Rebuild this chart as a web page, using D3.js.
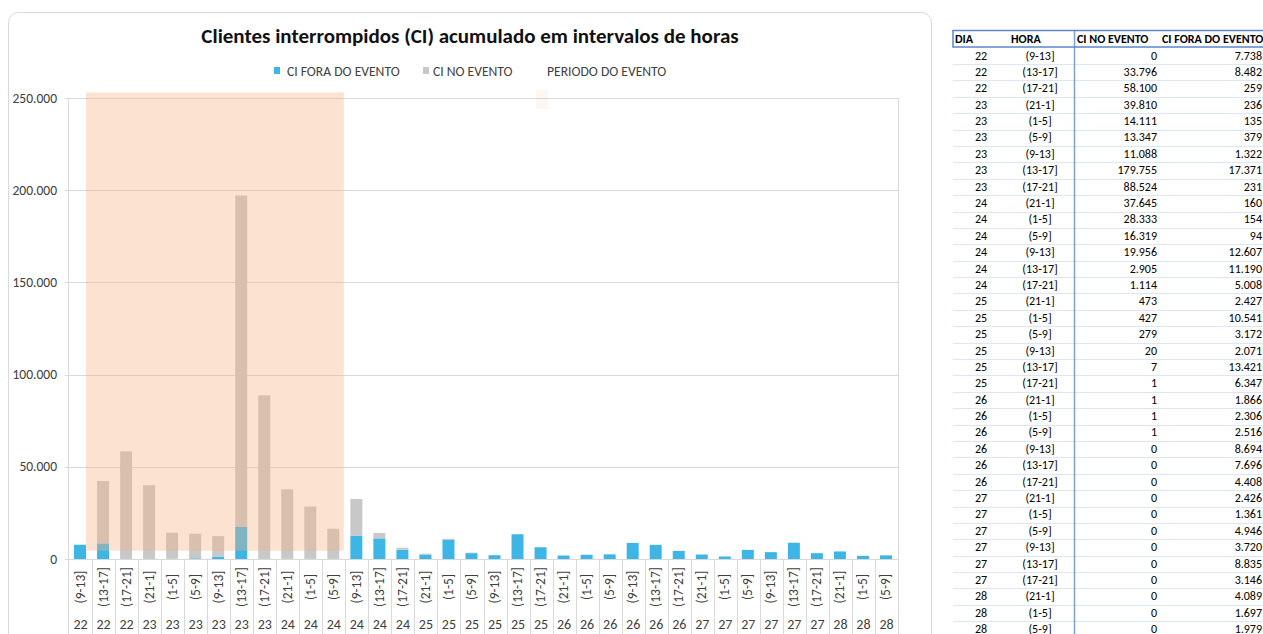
<!DOCTYPE html>
<html>
<head>
<meta charset="utf-8">
<script src="https://cdnjs.cloudflare.com/ajax/libs/d3/7.8.5/d3.min.js"></script>
<style>
	body { margin: 0; background: #fff; }
	text { font-family: Calibri, Carlito, "Liberation Sans Narrow", "Arial Narrow", sans-serif; }
</style>
</head>
<body>
<script>
// data read from the sheet
var dias = [22,22,22,23,23,23,23,23,23,24,24,24,24,24,24,25,25,25,25,25,25,26,26,26,26,26,26,27,27,27,27,27,27,28,28,28];
var horas = ["(9-13]","(13-17]","(17-21]",
	"(21-1]","(1-5]","(5-9]","(9-13]","(13-17]","(17-21]",
	"(21-1]","(1-5]","(5-9]","(9-13]","(13-17]","(17-21]",
	"(21-1]","(1-5]","(5-9]","(9-13]","(13-17]","(17-21]",
	"(21-1]","(1-5]","(5-9]","(9-13]","(13-17]","(17-21]",
	"(21-1]","(1-5]","(5-9]","(9-13]","(13-17]","(17-21]",
	"(21-1]","(1-5]","(5-9]"];
var ciNoEvento = [0,33796,58100, 39810,14111,13347,11088,179755,88524, 37645,28333,16319,19956,2905,1114,
	473,427,279,20,7,1, 1,1,1,0,0,0, 0,0,0,0,0,0, 0,0,0];
var ciForaEvento = [7738,8482,259, 236,135,379,1322,17371,231, 160,154,94,12607,11190,5008,
	2427,10541,3172,2071,13421,6347, 1866,2306,2516,8694,7696,4408, 2426,1361,4946,3720,8835,3146,
	4089,1697,1979];
var yTicks = [0,50000,100000,150000,200000,250000];
// periodo do evento: first/last category and value band
var periodoInicio = 1, periodoFim = 11;
var periodoFaixa = [4500, 253000];

var titulo = "Clientes interrompidos (CI) acumulado em intervalos de horas";
var legenda = ["CI FORA DO EVENTO", "CI NO EVENTO", "PERIODO DO EVENTO"];
var cabecalho = ["DIA", "HORA", "CI NO EVENTO", "CI FORA DO EVENTO"];

var azul = "#3db6e6", cinza = "#c8c8c8", pessego = "#f4b183";

var fmt = function (v) { return d3.format(",")(v).replace(/,/g, "."); };

function desenha() {
	var svg = d3.select("body").append("svg")
		.attr("width", 1263)
		.attr("height", 634);

	// chart frame
	svg.append("rect")
		.attr("x", 8.5).attr("y", 12.5)
		.attr("width", 923).attr("height", 660)
		.attr("rx", 10)
		.attr("fill", "#fff")
		.attr("stroke", "#d9d9d9");

	var pLeft = 69, pRight = 898, pTop = 98, pBottom = 559;
	var idx = d3.range(dias.length);

	var x = d3.scaleBand().domain(idx).range([pLeft, pRight]).padding(0);
	var y = d3.scaleLinear().domain([0, 250000]).range([pBottom, pTop]);
	var bw = x.bandwidth();
	var barW = bw * 0.52;

	svg.append("text")
		.attr("x", 470).attr("y", 43)
		.attr("text-anchor", "middle")
		.attr("font-size", 21).attr("font-weight", "bold")
		.attr("fill", "#111")
		.text(titulo);

	// gridlines
	var grid = svg.append("g");
	grid.selectAll("line").data(yTicks).enter().append("line")
		.attr("x1", pLeft - 4).attr("x2", pRight)
		.attr("y1", function (d) { return Math.round(y(d)) + 0.5; })
		.attr("y2", function (d) { return Math.round(y(d)) + 0.5; })
		.attr("stroke", "#d9d9d9");
	grid.selectAll("text").data(yTicks).enter().append("text")
		.attr("x", 57)
		.attr("y", function (d) { return y(d) + 4.5; })
		.attr("text-anchor", "end")
		.attr("font-size", 13.5)
		.attr("fill", "#404040")
		.text(fmt);

	svg.append("line")
		.attr("x1", pLeft - 0.5).attr("x2", pLeft - 0.5)
		.attr("y1", pTop).attr("y2", 634)
		.attr("stroke", "#d9d9d9");
	svg.append("line")
		.attr("x1", pRight + 0.5).attr("x2", pRight + 0.5)
		.attr("y1", pTop).attr("y2", 634)
		.attr("stroke", "#d9d9d9");

	// category separators
	svg.append("g").selectAll("line").data(idx.slice(1)).enter().append("line")
		.attr("x1", function (d) { return Math.round(x(d)) + 0.5; })
		.attr("x2", function (d) { return Math.round(x(d)) + 0.5; })
		.attr("y1", pBottom).attr("y2", 634)
		.attr("stroke", "#d9d9d9");

	// stacked bars
	var bars = svg.append("g");
	bars.selectAll("rect.fora").data(idx).enter().append("rect")
		.attr("class", "fora")
		.attr("x", function (i) { return x(i) + (bw - barW) / 2 - 0.5; })
		.attr("width", barW)
		.attr("y", function (i) { return y(ciForaEvento[i]); })
		.attr("height", function (i) { return y(0) - y(ciForaEvento[i]); })
		.attr("fill", azul);
	bars.selectAll("rect.no").data(idx).enter().append("rect")
		.attr("class", "no")
		.attr("x", function (i) { return x(i) + (bw - barW) / 2 - 0.5; })
		.attr("width", barW)
		.attr("y", function (i) { return y(ciForaEvento[i] + ciNoEvento[i]); })
		.attr("height", function (i) { return y(ciForaEvento[i]) - y(ciForaEvento[i] + ciNoEvento[i]); })
		.attr("fill", cinza);

	// periodo do evento overlay
	svg.append("rect")
		.attr("x", x(periodoInicio) - bw * 0.26)
		.attr("width", x(periodoFim) + bw * 0.93 - x(periodoInicio) + bw * 0.26)
		.attr("y", y(periodoFaixa[1]))
		.attr("height", y(periodoFaixa[0]) - y(periodoFaixa[1]))
		.attr("fill", pessego)
		.attr("fill-opacity", 0.37);

	svg.append("line")
		.attr("x1", pLeft).attr("x2", pRight)
		.attr("y1", pBottom + 0.5).attr("y2", pBottom + 0.5)
		.attr("stroke", "#d9d9d9");

	// category labels
	var cat = svg.append("g");
	cat.selectAll("text.hora").data(idx).enter().append("text")
		.attr("class", "hora")
		.attr("transform", function (i) { return "translate(" + (x(i) + bw / 2 + 4) + ",587) rotate(-90)"; })
		.attr("text-anchor", "middle")
		.attr("font-size", 13.5)
		.attr("fill", "#404040")
		.text(function (i) { return horas[i]; });
	cat.selectAll("text.dia").data(idx).enter().append("text")
		.attr("class", "dia")
		.attr("x", function (i) { return x(i) + bw / 2; })
		.attr("y", 629)
		.attr("text-anchor", "middle")
		.attr("font-size", 14)
		.attr("fill", "#404040")
		.text(function (i) { return dias[i]; });

	// legend
	var leg = svg.append("g").attr("font-size", 13.6).attr("fill", "#404040");
	leg.append("rect").attr("x", 274).attr("y", 67).attr("width", 6).attr("height", 7).attr("fill", azul);
	leg.append("text").attr("x", 287).attr("y", 75.5).text(legenda[0]);
	leg.append("rect").attr("x", 423).attr("y", 67).attr("width", 6).attr("height", 7).attr("fill", cinza);
	leg.append("text").attr("x", 433).attr("y", 75.5).text(legenda[1]);
	leg.append("text").attr("x", 547).attr("y", 75.5).text(legenda[2]);
	leg.append("rect").attr("x", 536).attr("y", 90).attr("width", 12).attr("height", 19)
		.attr("fill", pessego).attr("fill-opacity", 0.12);

	// table on the right
	var tab = svg.append("g").attr("font-size", 12).attr("fill", "#000");
	var row0 = 59.5, rowH = 16.39;
	tab.selectAll("line.row").data(idx).enter().append("line")
		.attr("x1", 953).attr("x2", 1263)
		.attr("y1", function (i) { return Math.round(row0 + i * rowH + 4.5) + 0.5; })
		.attr("y2", function (i) { return Math.round(row0 + i * rowH + 4.5) + 0.5; })
		.attr("stroke", "#dce6f4");
	tab.append("line")
		.attr("x1", 1074.5).attr("x2", 1074.5).attr("y1", 30).attr("y2", 634)
		.attr("stroke", "#7b9fd6").attr("stroke-width", 1.5);
	tab.append("rect")
		.attr("x", 953).attr("y", 30.5).attr("width", 320).attr("height", 16.5)
		.attr("fill", "none").attr("stroke", "#5b87c9").attr("stroke-width", 1.5);

	var colX = [955, 1011, 1077, 1162];
	tab.selectAll("text.cab").data(cabecalho).enter().append("text")
		.attr("x", function (d, i) { return colX[i]; })
		.attr("y", 43)
		.attr("font-weight", "bold")
		.text(function (d) { return d; });

	tab.selectAll("text.dia").data(idx).enter().append("text")
		.attr("x", 981).attr("y", function (i) { return row0 + i * rowH; })
		.attr("text-anchor", "middle")
		.text(function (i) { return dias[i]; });
	tab.selectAll("text.hora").data(idx).enter().append("text")
		.attr("x", 1040).attr("y", function (i) { return row0 + i * rowH; })
		.attr("text-anchor", "middle")
		.text(function (i) { return horas[i]; });
	tab.selectAll("text.no").data(idx).enter().append("text")
		.attr("x", 1157).attr("y", function (i) { return row0 + i * rowH; })
		.attr("text-anchor", "end")
		.text(function (i) { return fmt(ciNoEvento[i]); });
	tab.selectAll("text.fora").data(idx).enter().append("text")
		.attr("x", 1262).attr("y", function (i) { return row0 + i * rowH; })
		.attr("text-anchor", "end")
		.text(function (i) { return fmt(ciForaEvento[i]); });
}

desenha();
</script>
</body>
</html>
